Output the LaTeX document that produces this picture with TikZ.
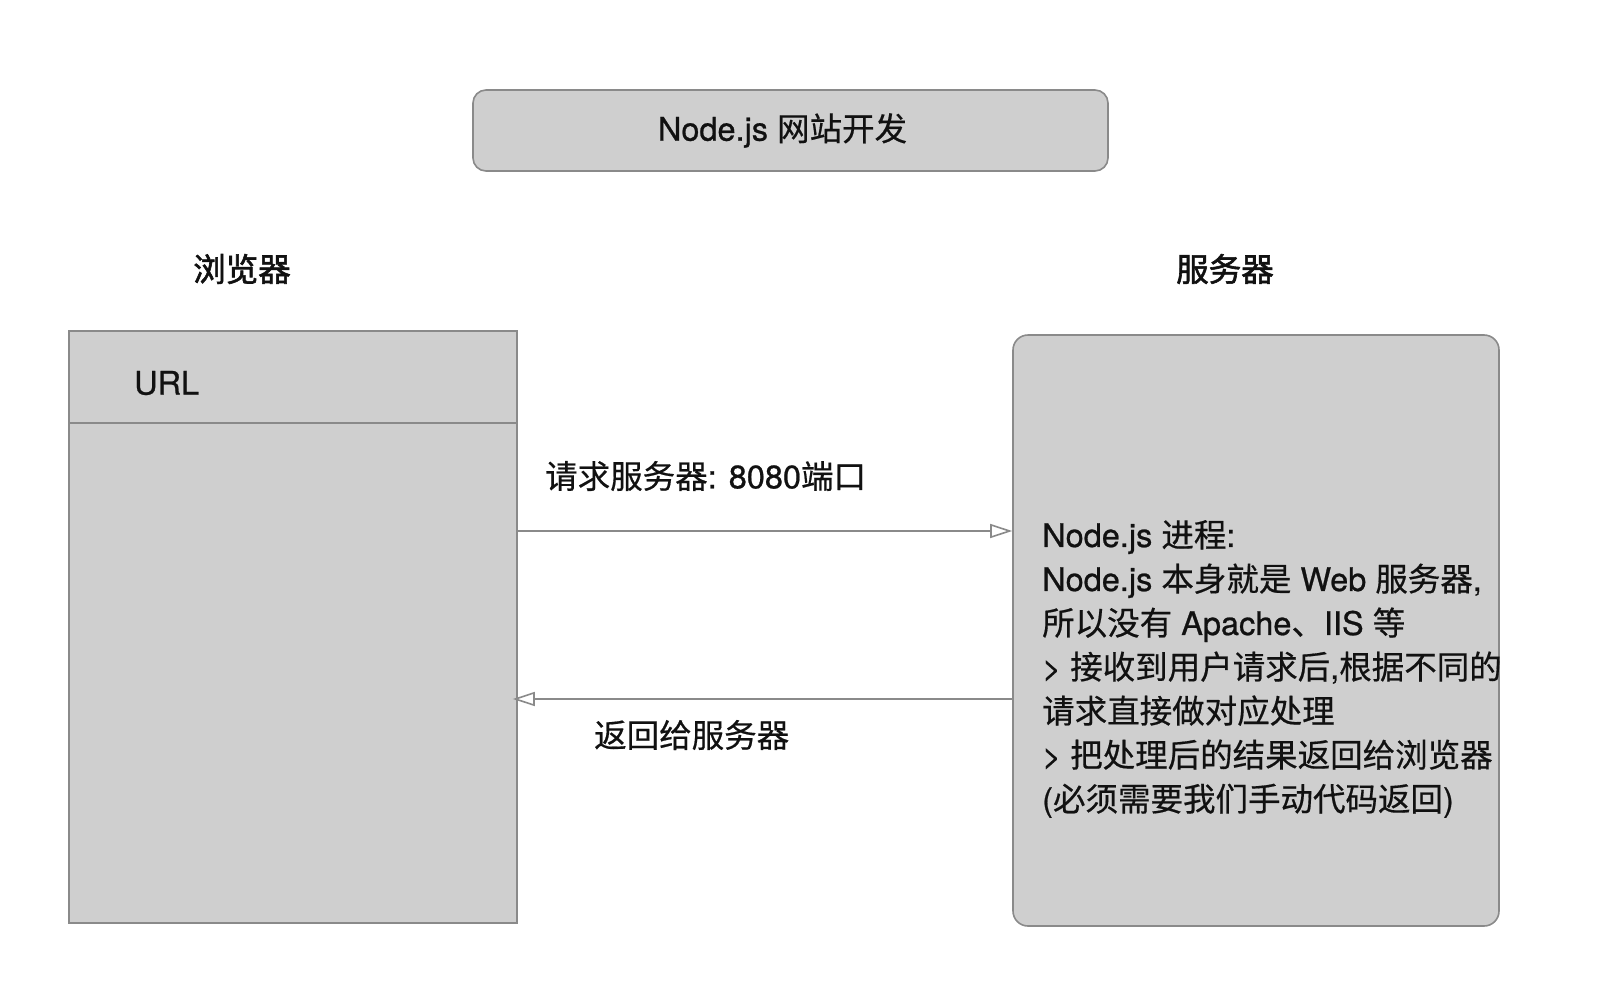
\documentclass[tikz,border=0pt]{standalone}
\usepackage{fontspec}
\setmainfont{TeX Gyre Heros}[FakeBold=0.5]
\newfontfamily\cjk{Noto Sans CJK SC}[FakeBold=0.5]
\usetikzlibrary{arrows.meta}
\definecolor{boxfill}{HTML}{CFCFCF}
\definecolor{boxline}{HTML}{8A8A8A}
\definecolor{txt}{HTML}{111111}
\newcommand{\zh}[1]{{\cjk #1}}
\tikzset{
  panel/.style={draw=boxline, fill=boxfill, line width=1.6pt, inner sep=0pt},
  lbl/.style={text=txt, inner sep=0pt, font=\fontsize{32.5}{44}\selectfont\addfontfeatures{FakeBold=0.7}},
  conn/.style={draw=boxline, line width=1.6pt, -{Triangle[open, length=22pt, width=14pt, fill=white]}},
}
\begin{document}
\begin{tikzpicture}[x=1pt,y=-1pt]
\useasboundingbox[fill=white] (0,0) rectangle (1612,996);
% title
\node[panel, rounded corners=13pt, minimum width=635pt, minimum height=81pt] (title) at (790.5,130.5) {};
\node[lbl, xshift=-8pt] (titletext) at (title.center) {Node.js \zh{网站开发}};
% column labels
\node[lbl] (blabel) at (242,269) {\zh{\addfontfeatures{FakeBold=1.8}浏览器}};
\node[lbl] (slabel) at (1225,269) {\zh{\addfontfeatures{FakeBold=1.8}服务器}};
% browser
\node[panel, minimum width=448pt, minimum height=592pt] (browser) at (293,627) {};
\coordinate (divl) at (69,423);
\coordinate (divr) at (517,423);
\draw[boxline, line width=1.6pt] (divl) -- (divr);
\node[lbl, anchor=west] (url) at (134,383) {URL};
% server
\node[panel, rounded corners=15pt, minimum width=486pt, minimum height=591pt] (server) at (1256,630.5) {};
\node[lbl, anchor=west, align=left] (stext) at (1042,669) {Node.js \zh{进程}:\\
Node.js \zh{本身就是} Web \zh{服务器},\\
\zh{所以没有} Apache\zh{、}IIS \zh{等}\\
> \zh{接收到用户请求后},\zh{根据不同的}\\
\zh{请求直接做对应处理}\\
> \zh{把处理后的结果返回给浏览器}\\
(\zh{必须需要我们手动代码返回})};
% connectors
\draw[conn] (browser.east |- 0,531) -- (server.west |- 0,531);
\draw[conn, shorten >=-5pt] (server.west |- 0,699) -- (browser.east |- 0,699);
\node[lbl, anchor=west] (req) at (545,476) {\zh{请求服务器}: 8080\zh{端口}};
\node[lbl, anchor=west] (resp) at (594,735) {\zh{返回给服务器}};
\end{tikzpicture}
\end{document}
